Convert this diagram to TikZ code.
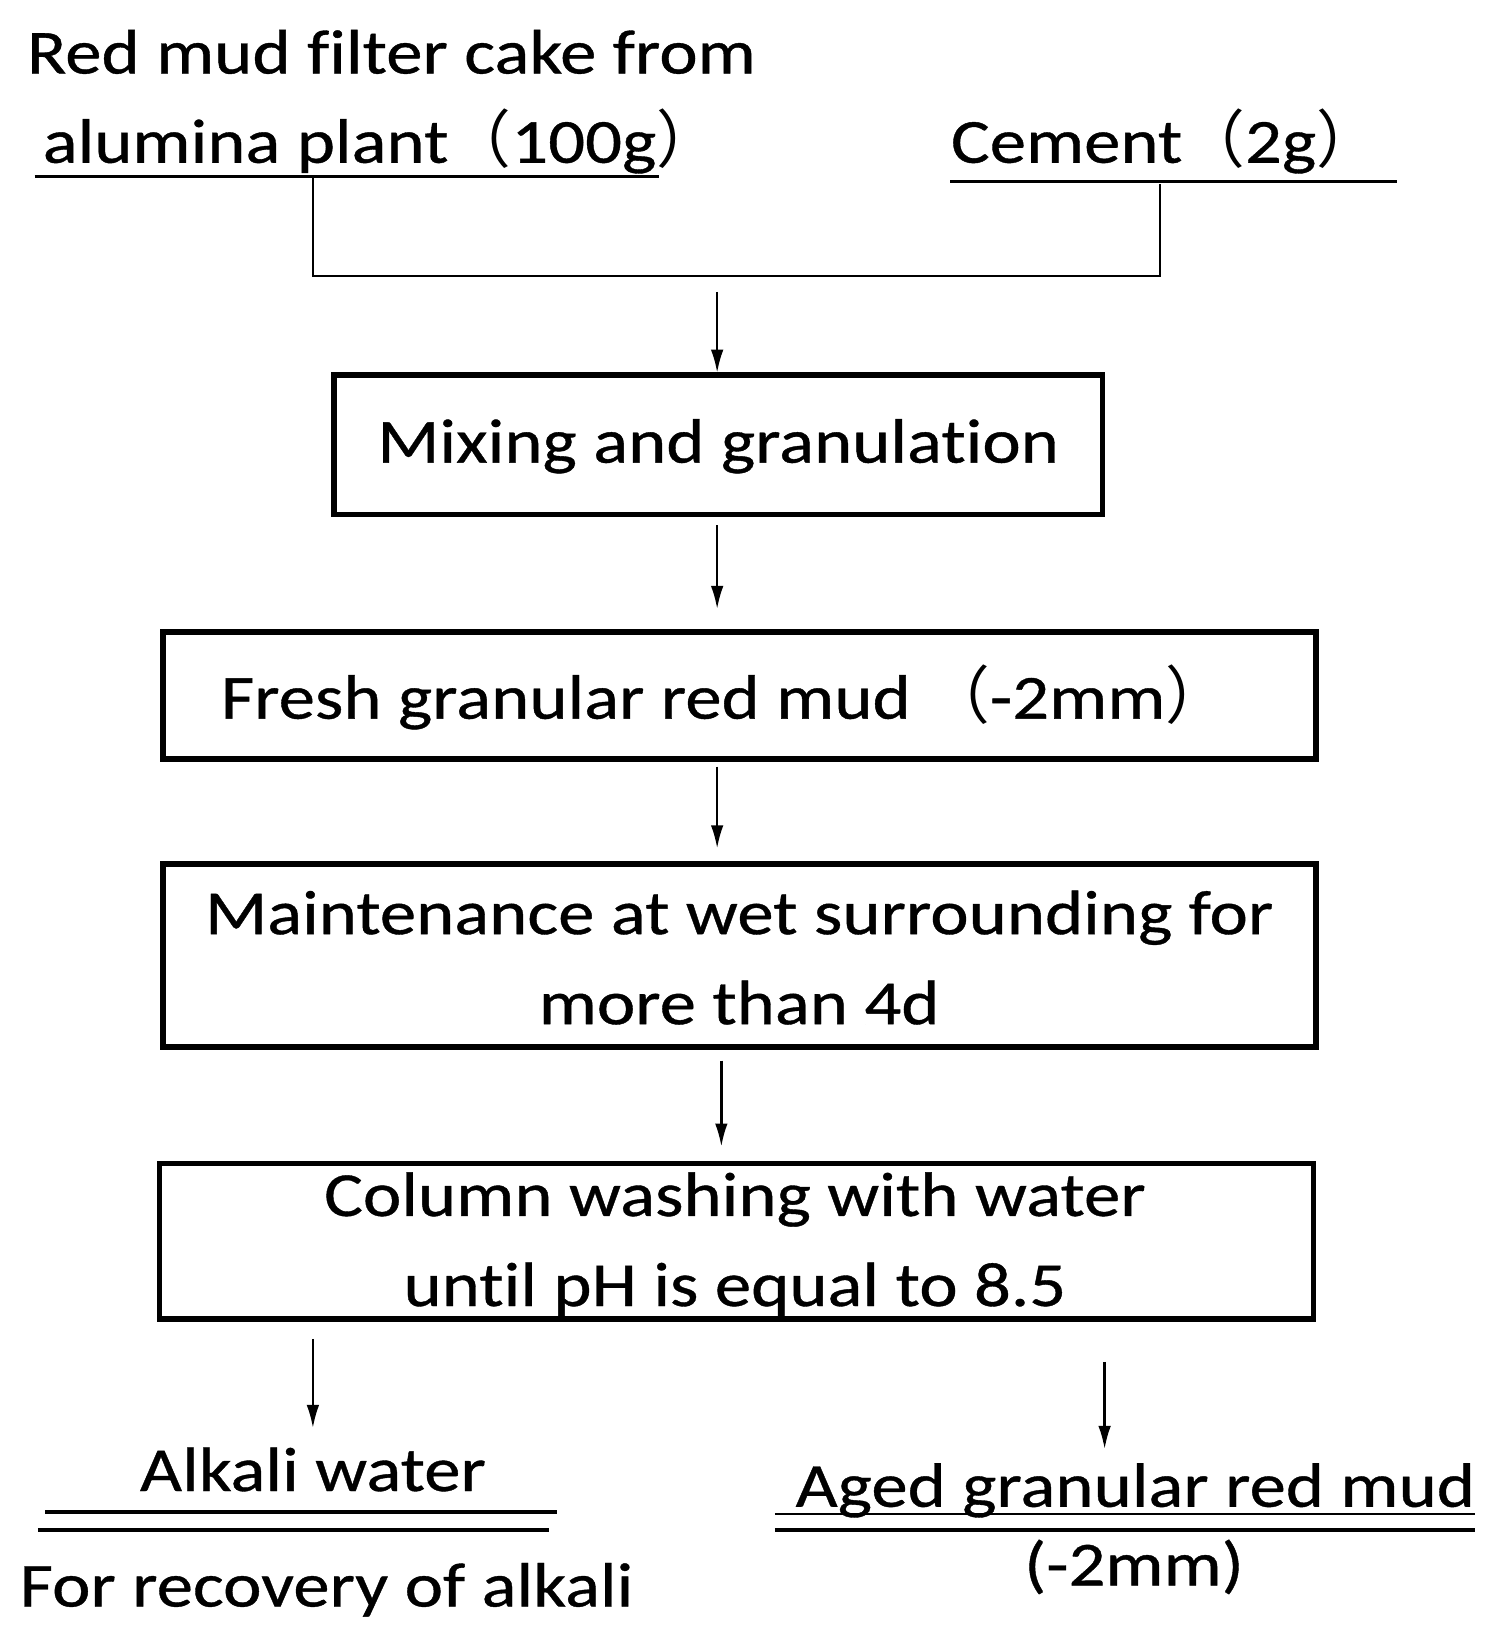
\documentclass[tikz,border=0pt]{standalone}
\usepackage{fontspec}
\usetikzlibrary{arrows.meta}
\setmainfont{Carlito}[FakeStretch=1.16,FakeBold=0.6,RawFeature={-liga}]
\newfontfamily\cjk{Noto Sans CJK SC}
\newcommand{\lp}{{\cjk （}}
\newcommand{\rp}{{\cjk ）}}
\begin{document}
\begin{tikzpicture}[x=0.1mm,y=-0.1mm,
  box/.style={draw,line width=0.55mm},
  thin/.style={line width=0.22mm},
  arr/.style={thin,-{Latex[length=2.2mm,width=1.2mm]}},
  txt/.style={font=\fontsize{17}{21}\selectfont,inner sep=0pt},
  lbl/.style={txt,anchor=base west}]
\useasboundingbox (0,0) rectangle (1414,1560);
\node[lbl] (t1) at (25,70) {Red mud filter cake from};
\node[lbl] (t2) at (40,155) {alumina plant\lp100g\rp};
\node[lbl] (t3) at (905,155) {Cement\lp2g\rp};
\draw[thin] (33,168) -- (628,168);
\draw[thin] (905,173) -- (1330,173);
\coordinate (a) at (298,168); \coordinate (b) at (1105,175);
\draw[thin] (a) -- (298,263) -- (1105,263) -- (b);
\coordinate (m1) at (683,278);
\draw[box] (318,357) rectangle (1050,490);
\node[txt] (n1) at (684,425) {Mixing and granulation};
\coordinate (m1e) at (683,355);
\draw[arr] (m1) -- (m1e);
\draw[arr] (683,500) -- (683,580);
\draw[box] (155,602) rectangle (1253,723);
\node[txt] (n2) at (690,664) {Fresh granular red mud \lp-2mm\rp};
\draw[arr] (683,730) -- (683,808);
\draw[box] (155,823) rectangle (1253,997);
\node[txt,align=center] (n3) at (704,912) {Maintenance at wet surrounding for\\[0.2em]more than 4d};
\draw[arr] (687,1010) -- (687,1092);
\draw[box] (152,1108) rectangle (1251,1256);
\node[txt,align=center] (n4) at (700,1185) {Column washing with water\\[0.2em]until pH is equal to 8.5};
\draw[arr] (298,1275) -- (298,1360);
\draw[arr] (1052,1297) -- (1052,1380);
\node[txt,anchor=base] (aw) at (298,1420) {Alkali water};
\draw[line width=0.4mm] (43,1440) -- (530,1440);
\draw[line width=0.4mm] (36,1457) -- (523,1457);
\node[lbl] (fr) at (18,1530) {For recovery of alkali};
\node[lbl] (ag) at (757,1435) {Aged granular red mud};
\draw[thin] (738,1442) -- (1405,1442);
\draw[line width=0.4mm] (738,1457) -- (1405,1457);
\node[txt,anchor=base] (mm) at (1080,1510) {(-2mm)};
\end{tikzpicture}
\end{document}
